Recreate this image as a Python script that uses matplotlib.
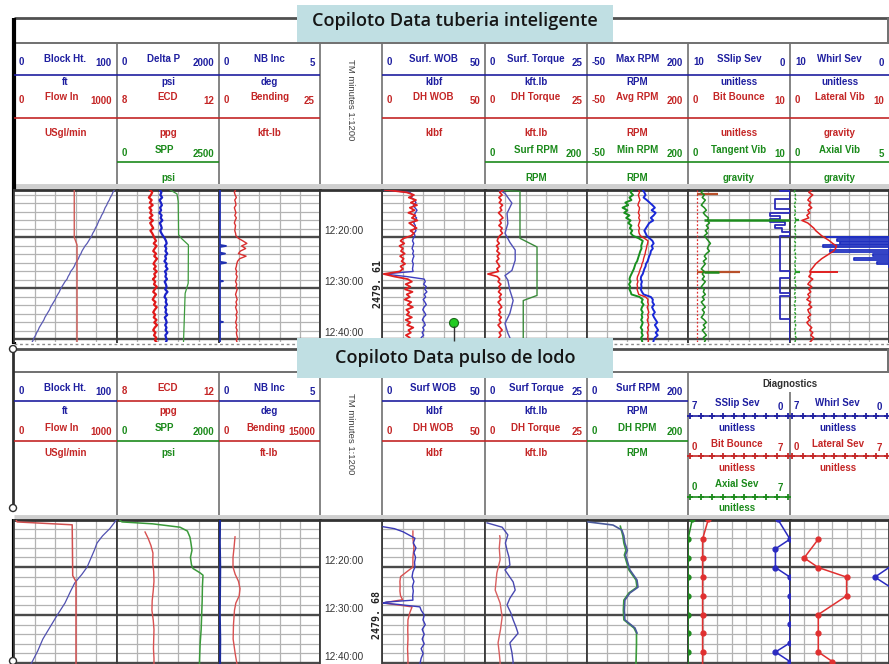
import numpy as np
import matplotlib
matplotlib.use("Agg")
import matplotlib.pyplot as plt
from matplotlib.patches import Rectangle, Circle
from matplotlib.transforms import blended_transform_factory as blend

# ============================ DATA ============================
TRACK_X = [14, 117, 219, 320, 382, 485, 587, 688, 790, 889]
TITLE_TOP = "Copiloto Data tuberia inteligente"
TITLE_BOT = "Copiloto Data pulso de lodo"
TIME_LABEL_T = [20, 30, 40]
TIME_LABEL_S = ["12:20:00", "12:30:00", "12:40:00"]
DEPTH_TOP = "2479. 61"
DEPTH_BOT = "2479. 68"
INDEX_TXT = "TM minutes 1:1200"

# ---- top panel (minutes after 12:00) ----
TT = [10.7, 11.2, 11.7, 12.2, 12.7, 13.2, 13.7, 14.2, 14.7, 15.2,
      15.7, 16.2, 16.7, 17.2, 17.7, 18.2, 18.7, 19.2, 19.7, 20.2,
      20.7, 21.2, 21.7, 22.2, 22.7, 23.2, 23.7, 24.2, 24.7, 25.2,
      25.7, 26.2, 26.7, 27.2, 27.7, 28.2, 28.7, 29.2, 29.7, 30.2,
      30.7, 31.2, 31.7, 32.2, 32.7, 33.2, 33.7, 34.2, 34.7, 35.2,
      35.7, 36.2, 36.7, 37.2, 37.7, 38.2, 38.7, 39.2, 39.7, 40.2, 40.6]
BLOCK_TOP = [97.5, 96.0, 95.0, 93.5, 92.5, 91.0, 90.0, 88.5, 87.5, 86.5,
             85.0, 84.0, 82.5, 81.5, 80.5, 79.0, 78.0, 76.5, 75.5, 74.0,
             72.5, 71.0, 69.0, 67.5, 66.0, 65.0, 63.5, 62.5, 61.0, 59.5,
             58.5, 57.0, 55.0, 54.0, 52.5, 51.5, 49.5, 48.0, 46.5, 45.0,
             44.0, 42.5, 41.0, 40.0, 38.5, 37.0, 35.5, 34.5, 33.0, 31.5,
             30.0, 29.0, 27.5, 26.0, 24.5, 23.5, 22.0, 21.0, 19.5, 18.5, 17.5]
FLOW_TOP_T = [10.7, 20.0, 21.5, 40.6]
FLOW_TOP_V = [585, 585, 612, 612]
ECD_TOP = [9.30, 9.38, 9.33, 9.25, 9.36, 9.29, 9.40, 9.27, 9.35, 9.30,
           9.39, 9.28, 9.41, 9.30, 9.36, 9.42, 9.31, 9.38, 9.43, 9.47,
           9.53, 9.44, 9.55, 9.48, 9.42, 9.53, 9.46, 9.57, 9.49, 9.43,
           9.52, 9.45, 9.56, 9.46, 9.51, 9.41, 9.50, 9.45, 9.56, 9.48,
           9.42, 9.53, 9.46, 9.40, 9.51, 9.45, 9.56, 9.48, 9.42, 9.50,
           9.44, 9.55, 9.46, 9.57, 9.48, 9.42, 9.51, 9.45, 9.54, 9.49, 9.56]
DELTAP_TOP = [840, 870, 850, 885, 835, 860, 880, 845, 865, 830,
              875, 855, 890, 840, 862, 878, 848, 870, 900, 935,
              960, 975, 940, 968, 950, 985, 945, 962, 930, 975,
              955, 990, 940, 965, 948, 980, 935, 958, 972, 945,
              990, 950, 932, 968, 955, 980, 942, 965, 950, 985,
              938, 960, 975, 945, 970, 952, 988, 948, 962, 975, 958]
SPP_TOP_T = [10.7, 11.5, 13.0, 19.5, 20.3, 21.5, 29.0, 31.0, 40.6]
SPP_TOP_V = [1300, 1470, 1500, 1510, 1590, 1750, 1745, 1670, 1630]
NBINC_TOP_T = [10.7, 21.5, 21.7, 21.9, 23.0, 23.2, 23.4, 24.8, 25.0, 25.2,
               28.5, 28.6, 28.7, 36.5, 36.6, 36.7, 40.6]
NBINC_TOP_V = [0.05, 0.05, 0.35, 0.05, 0.05, 0.30, 0.05, 0.05, 0.35, 0.05,
               0.05, 0.20, 0.05, 0.05, 0.20, 0.05, 0.05]
BEND_TOP = [4.1, 3.8, 4.0, 4.3, 3.9, 4.1, 4.2, 3.8, 4.0, 4.2,
            3.9, 4.3, 4.0, 3.8, 4.1, 4.0, 3.9, 4.1, 4.2, 4.8,
            5.9, 6.9, 5.6, 6.6, 5.3, 4.8, 6.7, 5.1, 4.6, 4.4,
            4.3, 4.1, 4.4, 4.2, 4.5, 4.3, 4.1, 4.4, 4.2, 4.5,
            4.3, 4.1, 4.3, 4.5, 4.2, 4.4, 4.1, 4.3, 4.5, 4.2,
            4.4, 4.3, 4.1, 4.4, 4.2, 4.5, 4.3, 4.4, 4.6, 4.3, 4.5]
SWOB_TOP = [1.0, 13.5, 15.0, 14.2, 15.8, 16.5, 15.2, 16.0, 17.0, 16.2,
            15.5, 16.8, 16.0, 15.4, 16.2, 15.8, 16.5, 15.6, 16.0, 15.2,
            14.8, 15.4, 15.0, 14.6, 15.3, 14.9, 15.5, 15.0, 14.7, 15.2,
            15.0, 14.8, 15.1, 1.0, 12.0, 20.5, 21.0, 20.2, 21.5, 20.8,
            21.8, 20.5, 21.2, 20.0, 20.8, 21.5, 20.4, 19.8, 20.6, 21.3,
            20.2, 19.6, 20.5, 21.0, 19.8, 20.4, 19.5, 20.2, 19.0, 19.6, 19.3]
DWOB_TOP = [1.5, 12.0, 15.5, 13.0, 16.5, 14.0, 17.0, 13.5, 15.8, 12.8,
            16.2, 14.5, 17.2, 13.2, 15.0, 16.8, 13.8, 15.5, 14.2, 10.5,
            9.0, 10.8, 8.5, 10.2, 9.2, 11.0, 8.8, 10.5, 9.5, 11.2,
            9.0, 10.2, 8.6, 0.8, 6.0, 12.5, 14.5, 11.5, 13.8, 11.2,
            14.8, 12.0, 13.5, 11.0, 14.2, 12.5, 15.0, 11.8, 13.2, 12.0,
            14.5, 11.5, 13.8, 12.2, 15.2, 12.8, 14.0, 11.6, 13.5, 12.4, 14.0]
STORQ_TOP_T = [10.7, 11.4, 13.3, 15.3, 17.3, 19.2, 21.0, 22.5, 24.5, 26.5,
               27.5, 28.4, 30.4, 32.4, 34.9, 36.9, 38.8, 40.6]
STORQ_TOP_V = [3.5, 4.9, 6.6, 5.4, 5.6, 4.9, 6.1, 7.4, 7.4, 6.6,
               4.9, 5.6, 6.1, 6.9, 6.1, 4.9, 5.6, 6.6]
DTORQ_TOP = [4.5, 3.6, 4.2, 3.4, 4.0, 3.5, 4.3, 3.7, 4.1, 3.3,
             3.9, 4.4, 3.6, 4.0, 3.4, 4.2, 3.8, 4.3, 3.6, 3.2,
             3.0, 3.5, 2.8, 3.3, 2.9, 3.6, 3.0, 3.4, 2.8, 3.2,
             3.6, 2.9, 3.3, 0.7, 3.0, 3.6, 3.2, 3.9, 3.4, 3.8,
             3.3, 4.0, 3.5, 3.9, 3.2, 3.7, 4.1, 3.4, 3.8, 3.3,
             4.0, 3.5, 3.9, 3.2, 3.7, 4.2, 3.5, 3.9, 3.4, 3.8, 3.6]
SRPM_TOP_T = [10.8, 11.0, 20.2, 21.9, 31.4, 32.4, 40.6]
SRPM_TOP_V = [35, 68.6, 68.6, 102, 102, 75, 75]
MAXRPM_TOP = [88, 92, 95, 90, 98, 105, 112, 118, 110, 120,
              115, 108, 114, 104, 100, 96, 92, 95, 98, 105,
              112, 115, 110, 113, 108, 107, 104, 102, 100, 96,
              95, 92, 90, 88, 84, 83, 86, 84, 85, 83,
              86, 90, 108, 113, 112, 116, 111, 114, 118, 113,
              116, 120, 124, 118, 122, 126, 120, 125, 118, 115, 114]
AVGRPM_TOP = [78, 80, 77, 79, 81, 78, 76, 80, 79, 77,
              80, 78, 81, 79, 77, 80, 78, 79, 82, 92,
              101, 100, 98, 97, 95, 94, 92, 90, 89, 86,
              85, 82, 80, 78, 75, 74, 76, 74, 75, 74,
              76, 78, 95, 101, 100, 102, 99, 101, 103, 100,
              102, 99, 101, 103, 100, 102, 99, 101, 100, 102, 101]
MINRPM_TOP = [62, 58, 64, 55, 60, 45, 52, 38, 50, 42,
              55, 47, 58, 52, 60, 56, 62, 58, 64, 78,
              88, 86, 84, 85, 82, 80, 78, 76, 74, 70,
              68, 66, 63, 60, 57, 55, 58, 54, 57, 55,
              58, 60, 80, 88, 85, 90, 86, 84, 88, 85,
              87, 84, 88, 86, 83, 87, 85, 88, 84, 86, 87]
SSLIP_TOP_T = [10.7, 11.0, 12.5, 14.5, 15.3, 15.9, 16.5, 17.0, 17.6, 18.2,
               19.0, 19.8, 26.7, 28.0, 31.0, 31.6, 36.1, 38.8, 40.6]
SSLIP_TOP_V = [0, 1, 0, 1.5, 0, 2, 1, 2, 0.5, 1.5,
               0.8, 0, 1, 0, 1, 0, 1, 0, 0]
BITB_TOP_T = [10.7, 40.6]
BITB_TOP_V = [0.9, 0.9]
BITB_SPIKE_T = [11.6, 26.85]
BITB_SPIKE_V = [2.9, 5.1]
TANG_TOP = [1.5, 1.3, 1.6, 1.4, 1.7, 1.5, 1.3, 1.6, 1.8, 1.5,
            1.7, 2.0, 1.9, 2.1, 1.8, 2.0, 1.7, 1.9, 1.6, 1.8,
            2.0, 2.2, 2.0, 1.9, 2.1, 1.8, 1.6, 1.8, 1.5, 1.7,
            1.5, 1.3, 1.6, 1.4, 1.6, 1.4, 1.7, 1.5, 1.3, 1.6,
            1.5, 1.7, 1.4, 1.6, 1.3, 1.5, 1.7, 1.4, 1.6, 1.5,
            1.3, 1.6, 1.8, 1.5, 1.7, 1.4, 1.6, 1.8, 1.5, 1.7, 1.6]
TANG_SPIKE_T = [16.7, 26.85]
TANG_SPIKE_V = [11.0, 3.0]
WHIRL_TOP_T = [19.9, 20.0, 20.35, 20.65, 21.0, 21.3, 21.6, 22.0, 22.4, 22.9,
               23.2, 23.6, 24.0, 24.4, 24.8, 25.2, 25.5, 25.9]
WHIRL_TOP_V = [0, 6.3, 0, 5.3, 0, 5.0, 0, 6.7, 0, 6.0,
               0, 1.6, 0, 3.5, 0, 1.2, 0, 0]
LATV_TOP = [2.2, 1.9, 2.3, 2.0, 1.8, 2.1, 1.9, 2.2, 1.8, 2.0,
            1.7, 1.9, 1.2, 1.8, 2.1, 2.4, 2.6, 2.9, 3.2, 3.6,
            4.0, 4.3, 4.7, 4.6, 4.4, 4.0, 3.6, 3.2, 2.9, 2.6,
            2.4, 2.2, 2.0, 2.1, 1.9, 2.3, 2.0, 1.8, 2.2, 1.9,
            2.1, 1.8, 2.0, 1.7, 2.1, 1.9, 2.2, 1.8, 1.9, 2.1,
            1.8, 2.0, 1.7, 1.9, 2.2, 2.0, 2.3, 2.1, 2.4, 2.2, 2.0]
LATV_SPIKE_T = [26.85]
LATV_SPIKE_V = [4.8]
AXV_TOP = [0.25, 0.22, 0.28, 0.24, 0.30, 0.26, 0.21, 0.27, 0.25, 0.29,
           0.23, 0.26, 0.31, 0.24, 0.27, 0.22, 0.28, 0.25, 0.30, 0.26,
           0.23, 0.29, 0.25, 0.27, 0.22, 0.28, 0.24, 0.30, 0.26, 0.23,
           0.27, 0.25, 0.29, 0.24, 0.26, 0.22, 0.28, 0.25, 0.30, 0.24,
           0.27, 0.23, 0.26, 0.29, 0.25, 0.22, 0.28, 0.26, 0.24, 0.30,
           0.25, 0.27, 0.23, 0.29, 0.26, 0.24, 0.28, 0.25, 0.31, 0.27, 0.25]
AXV_SPIKE_T = [16.7, 26.85]
AXV_SPIKE_V = [0.45, 0.5]

# ---- bottom panel ----
BLOCK_BOT_T = [10.2, 10.6, 12.0, 13.5, 15.0, 16.5, 18.0, 20.0, 21.5, 23.3,
               25.0, 27.5, 30.0, 32.5, 35.0, 37.5, 39.8, 40.2]
BLOCK_BOT_V = [99, 98, 93, 86, 80.6, 78, 75, 71, 66, 59,
               55, 49.5, 42, 35, 28, 23, 17.5, 16.5]
FLOW_BOT_T = [10.2, 10.6, 11.2, 21.8, 23.0, 40.2]
FLOW_BOT_V = [20, 30, 565, 570, 602, 602]
ECD_BOT_T = [12.7, 14.0, 15.5, 17.1, 19.0, 21.0, 23.0, 25.0, 27.0, 29.0,
             31.0, 33.0, 35.0, 37.0, 39.0, 40.2]
ECD_BOT_V = [9.10, 9.22, 9.33, 9.41, 9.40, 9.44, 9.45, 9.42, 9.38, 9.37,
             9.42, 9.45, 9.44, 9.43, 9.45, 9.45]
SPP_BOT_T = [10.3, 10.6, 11.0, 11.7, 12.5, 13.8, 15.0, 16.5, 18.0, 19.5,
             20.3, 21.2, 21.7, 24.0, 27.0, 30.0, 33.0, 36.0, 39.0, 40.2]
SPP_BOT_V = [60, 98, 700, 1235, 1380, 1431, 1450, 1470, 1440, 1460,
             1490, 1627, 1686, 1675, 1670, 1660, 1650, 1630, 1620, 1617]
NBINC_BOT_T = [10.2, 15.0, 20.0, 25.0, 30.0, 35.0, 40.2]
NBINC_BOT_V = [0.05, 0.04, 0.06, 0.05, 0.04, 0.06, 0.05]
BEND_BOT_T = [13.7, 16.0, 18.0, 20.0, 21.5, 23.0, 24.5, 26.0, 27.5, 29.0,
              32.0, 35.0, 38.0, 40.2]
BEND_BOT_V = [2380, 2230, 2080, 2080, 2400, 2900, 3120, 3000, 2500, 2300,
              2150, 2100, 2400, 2670]
SWOB_BOT_T = [11.6, 12.0, 12.65, 14.0, 15.0, 16.0, 17.0, 18.0, 19.0, 20.0,
              21.0, 22.0, 23.0, 24.0, 25.0, 26.0, 26.9, 27.3, 27.5, 27.8,
              28.3, 29.0, 30.0, 31.0, 32.0, 33.0, 34.0, 35.0, 36.0, 37.0,
              38.0, 39.0, 40.2]
SWOB_BOT_V = [0.5, 6, 10.2, 16, 15.2, 16.5, 15.5, 16.3, 15.8, 16,
              15, 14.6, 15.5, 14.8, 15.2, 14.9, 15, 2, 0.5, 8,
              18.4, 19, 20.5, 19.9, 21, 19.5, 20.5, 19.5, 20.5, 19,
              20, 19, 18.4]
DWOB_BOT_T = [12.5, 14.0, 16.0, 18.0, 20.0, 21.0, 22.0, 23.0, 24.0, 25.0,
              26.0, 26.8, 27.3, 27.5, 27.8, 28.3, 29.5, 31.0, 33.0, 35.0,
              37.0, 39.0, 40.2]
DWOB_BOT_V = [15, 15, 15.5, 15, 15, 12, 9, 8.7, 8.8, 8.7,
              9, 10, 3, 0.5, 6, 14.6, 13.5, 12.6, 12.5, 12.6,
              12.4, 12.6, 12.6]
STORQ_BOT_T = [10.8, 11.7, 13.3, 15.0, 16.5, 18.0, 19.6, 20.6, 22.0, 23.1,
               24.8, 26.5, 27.9, 29.5, 31.0, 32.5, 33.8, 35.8, 37.8, 39.8, 40.2]
STORQ_BOT_V = [0.5, 4.2, 5.6, 5.0, 5.4, 5.9, 6.1, 4.9, 6.0, 6.9,
               7.4, 6.1, 5.4, 6.3, 6.9, 7.6, 8.1, 6.1, 6.6, 6.9, 6.8]
DTORQ_BOT_T = [13.5, 14.0, 16.0, 18.5, 21.25, 23.0, 24.8, 27.5, 30.4, 33.0,
               35.8, 38.0, 39.8, 40.2]
DTORQ_BOT_V = [3.6, 3.7, 3.5, 3.7, 2.9, 2.7, 2.5, 3.7, 4.2, 3.8,
               3.2, 3.5, 3.7, 3.7]
SRPM_BOT_T = [10.6, 11.25, 12.3, 13.5, 15.0, 16.5, 17.5, 18.5, 20.6, 22.7,
              24.2, 25.4, 26.9, 29.0, 31.0, 32.7, 33.75]
SRPM_BOT_V = [2, 51.5, 69, 73, 75, 80, 76, 79, 85, 99,
              101, 85, 75, 74, 75, 95, 99]
DRPM_BOT_T = [11.5, 12.3, 13.5, 15.0, 16.5, 17.5, 18.5, 20.6, 22.7, 24.2,
              25.4, 26.9, 29.0, 31.0, 32.7, 33.75, 36.0, 40.2]
DRPM_BOT_V = [66, 68, 71, 73, 77, 74, 77, 83, 97, 99,
              83, 73, 72, 73, 93, 98, 98, 97]
# diagnostics (unitless 0..7)
AXS_T = [10.0, 14.2, 18.1, 22.1, 26.0, 29.9, 33.8, 37.7, 41.6]
AXS_V = [0.3, 0, 0, 0, 0, 0, 0, 0, 0]
BBS_T = [10.0, 14.2, 18.1, 22.1, 26.0, 29.9, 33.8, 37.7, 41.6]
BBS_V = [1.4, 1, 1, 1, 1, 1, 1, 1, 1]
SSS_T = [10.0, 14.2, 16.2, 20.1, 22.1, 26.0, 31.9, 35.8, 37.7, 39.7, 41.6]
SSS_V = [0.85, 0, 1, 1, 0, 0, 0, 0, 1, 0, 0]
LTS_T = [14.2, 18.1, 20.1, 22.1, 26.0, 29.9, 33.8, 37.7, 39.7, 41.6]
LTS_V = [2, 1, 2, 4, 4, 2, 2, 2, 3, 3]
WHS_T = [20.1, 22.1, 24.0]
WHS_V = [0, 1, 0]

# header texts: (track, row, left, label, right, unit, colour key)
TOP_HDR = [
    (0, 0, '0', 'Block Ht.', '100', 'ft', 'b'),
    (0, 1, '0', 'Flow In', '1000', 'USgl/min', 'r'),
    (1, 0, '0', 'Delta P', '2000', 'psi', 'b'),
    (1, 1, '8', 'ECD', '12', 'ppg', 'r'),
    (1, 2, '0', 'SPP', '2500', 'psi', 'g'),
    (2, 0, '0', 'NB Inc', '5', 'deg', 'b'),
    (2, 1, '0', 'Bending', '25', 'kft-lb', 'r'),
    (4, 0, '0', 'Surf. WOB', '50', 'klbf', 'b'),
    (4, 1, '0', 'DH WOB', '50', 'klbf', 'r'),
    (5, 0, '0', 'Surf. Torque', '25', 'kft.lb', 'b'),
    (5, 1, '0', 'DH Torque', '25', 'kft.lb', 'r'),
    (5, 2, '0', 'Surf RPM', '200', 'RPM', 'g'),
    (6, 0, '-50', 'Max RPM', '200', 'RPM', 'b'),
    (6, 1, '-50', 'Avg RPM', '200', 'RPM', 'r'),
    (6, 2, '-50', 'Min RPM', '200', 'RPM', 'g'),
    (7, 0, '10', 'SSlip Sev', '0', 'unitless', 'b'),
    (7, 1, '0', 'Bit Bounce', '10', 'unitless', 'r'),
    (7, 2, '0', 'Tangent Vib', '10', 'gravity', 'g'),
    (8, 0, '10', 'Whirl Sev', '0', 'unitless', 'b'),
    (8, 1, '0', 'Lateral Vib', '10', 'gravity', 'r'),
    (8, 2, '0', 'Axial Vib', '5', 'gravity', 'g'),
]
BOT_HDR = [
    (0, 0, '0', 'Block Ht.', '100', 'ft', 'b'),
    (0, 1, '0', 'Flow In', '1000', 'USgl/min', 'r'),
    (1, 0, '8', 'ECD', '12', 'ppg', 'r'),
    (1, 1, '0', 'SPP', '2000', 'psi', 'g'),
    (2, 0, '0', 'NB Inc', '5', 'deg', 'b'),
    (2, 1, '0', 'Bending', '15000', 'ft-lb', 'r'),
    (4, 0, '0', 'Surf WOB', '50', 'klbf', 'b'),
    (4, 1, '0', 'DH WOB', '50', 'klbf', 'r'),
    (5, 0, '0', 'Surf Torque', '25', 'kft.lb', 'b'),
    (5, 1, '0', 'DH Torque', '25', 'kft.lb', 'r'),
    (6, 0, '0', 'Surf RPM', '200', 'RPM', 'b'),
    (6, 1, '0', 'DH RPM', '200', 'RPM', 'g'),
]
DIAG_HDR = [
    (7, 0, '7', 'SSlip Sev', '0', 'b'),
    (8, 0, '7', 'Whirl Sev', '0', 'b'),
    (7, 1, '0', 'Bit Bounce', '7', 'r'),
    (8, 1, '0', 'Lateral Sev', '7', 'r'),
    (7, 2, '0', 'Axial Sev', '7', 'g'),
]

# ============================ STYLE ============================
W, H = 889, 664
HC = {'b': '#1f1fa0', 'r': '#c42626', 'g': '#1b8a1b'}
NARROW = ['Liberation Sans Narrow', 'Liberation Sans', 'DejaVu Sans']
HFONT = dict(family=NARROW, fontweight='bold', fontsize=7.0)
GRID = '#b3b3b3'
MAJ = '#4a4a4a'
EDGE = '#3c3c3c'

PANELS = {
    'top': dict(y0=190, y1=342, t0=10.73, t1=40.53, minor=10 / 6),
    'bot': dict(y0=520, y1=664, t0=10.2, t1=40.2, minor=2.0),
}

fig = plt.figure(figsize=(W / 100, H / 100), dpi=100)
fig.patch.set_facecolor('white')


def R(x0, y0, x1, y1):
    return [x0 / W, 1 - y1 / H, (x1 - x0) / W, (y1 - y0) / H]


bg = fig.add_axes([0, 0, 1, 1], label='bg')
bg.set_xlim(0, W)
bg.set_ylim(H, 0)
bg.axis('off')

# ---------------- frames ----------------
bg.hlines(18, 14, 889, color='#505050', lw=2)
bg.hlines(43, 14, 889, color='#707070', lw=1.4)
bg.vlines(888, 18, 43, color='#707070', lw=1.4)
bg.vlines(TRACK_X[1:-1], 43, 184, color='#707070', lw=1.2)
bg.hlines(185.5, 14, 889, color='#cfcfcf', lw=3.5)
bg.vlines(14, 18, 344, color='black', lw=3)
bg.hlines(343.5, 14, 889, color='#8c8c8c', lw=1.0, linestyles=(0, (2, 2)))
bg.hlines(349, 13, 889, color='#505050', lw=2)
bg.hlines(372, 14, 889, color='#707070', lw=1.4)
bg.vlines(888, 349, 372, color='#707070', lw=1.4)
bg.vlines(TRACK_X[1:8], 372, 515, color='#707070', lw=1.2)
bg.vlines(790, 392, 515, color='#707070', lw=1.2)
bg.vlines(13, 349, 510, color='#303030', lw=2)
bg.hlines(516.5, 14, 889, color='#cfcfcf', lw=3.5)
bg.vlines(14, 519, 664, color='black', lw=3)

# ---------------- headers ----------------
TOP_ROWS = dict(label=[59, 97, 150], line=[75, 118, 162], unit=[82, 133, 178])
BOT_ROWS = dict(label=[388, 428], line=[401, 441], unit=[411, 453])


def header(spec, rows):
    ti, row, lv, lab, rv, unit, ck = spec
    L, Rr = TRACK_X[ti], TRACK_X[ti + 1]
    c = (L + Rr) / 2
    col = HC[ck]
    ly = rows['label'][row]
    dx = -4 if len(rv) >= 4 else 0
    bg.text(L + 5, ly + 3, lv, color=col, ha='left', va='center', **HFONT)
    bg.text(c + dx, ly, lab, color=col, ha='center', va='center', **HFONT)
    bg.text(Rr - 5, ly + 4, rv, color=col, ha='right', va='center', **HFONT)
    bg.hlines(rows['line'][row], L, Rr, color=col, lw=1.2)
    bg.text(c, rows['unit'][row], unit, color=col, ha='center', va='center', **HFONT)


for s in TOP_HDR:
    header(s, TOP_ROWS)
for s in BOT_HDR:
    header(s, BOT_ROWS)

bg.text(790, 384, 'Diagnostics', color='#303030', ha='center', va='center', **HFONT)
DROWS = dict(label=[403, 444, 484], line=[416, 456, 497], unit=[428, 468, 508])
for ti, row, lv, lab, rv, ck in DIAG_HDR:
    L, Rr = TRACK_X[ti], TRACK_X[ti + 1]
    c = (L + Rr) / 2 - 2
    col = HC[ck]
    ly = DROWS['label'][row]
    bg.text(L + 4, ly + 3, lv, color=col, ha='left', va='center', **HFONT)
    bg.text(c, ly, lab, color=col, ha='center', va='center', **HFONT)
    bg.text(Rr - 7, ly + 4, rv, color=col, ha='right', va='center', **HFONT)
    xs = np.linspace(L + 2, Rr - 2, 10)
    bg.plot(xs, [DROWS['line'][row]] * len(xs), color=col, lw=1.2,
            marker='+', ms=5, mew=1.3)
    bg.text(c, DROWS['unit'][row], 'unitless', color=col, ha='center', va='center', **HFONT)

for yc in (100, 434):
    bg.text(351, yc, INDEX_TXT, rotation=270, ha='center', va='center',
            color='#404040', family=NARROW, fontsize=6.8)

# ---------------- data tracks ----------------


def grid_axes(p, ti, ndiv):
    x0, x1 = TRACK_X[ti], TRACK_X[ti + 1]
    ax = fig.add_axes(R(x0, p['y0'], x1, p['y1']), label=f'g{ti}_{p["y0"]}')
    ax.set_xlim(0, 1)
    ax.set_ylim(p['t1'], p['t0'])
    for i in range(1, ndiv):
        ax.axvline(i / ndiv, color=GRID, lw=0.9, zorder=0)
    n = int(round(10 / p['minor']))
    for k in range(0, 3 * n + 1):
        t = 10 + k * p['minor']
        if k % n == 0:
            ax.axhline(t, color=MAJ, lw=1.7, zorder=1)
        else:
            ax.axhline(t, color=GRID, lw=0.9, zorder=0)
    ax.set_xticks([])
    ax.set_yticks([])
    for side in ('left', 'right'):
        ax.spines[side].set_color(EDGE)
        ax.spines[side].set_linewidth(1.3)
    ax.spines['top'].set_color('#333333')
    ax.spines['top'].set_linewidth(2.0)
    ax.spines['bottom'].set_visible(False)
    return ax


def depth_axes(p):
    x0, x1 = TRACK_X[3], TRACK_X[4]
    ax = fig.add_axes(R(x0, p['y0'], x1, p['y1']), label=f'd_{p["y0"]}')
    ax.set_xlim(0, 1)
    ax.set_ylim(p['t1'], p['t0'])
    ax.set_xticks([])
    ax.set_yticks([])
    for side in ('left', 'right'):
        ax.spines[side].set_color(EDGE)
        ax.spines[side].set_linewidth(1.3)
    ax.spines['top'].set_color('#333333')
    ax.spines['top'].set_linewidth(2.0)
    ax.spines['bottom'].set_visible(False)
    tr = blend(ax.transAxes, ax.transData)
    for t, s in zip(TIME_LABEL_T, TIME_LABEL_S):
        ax.text(0.39, t - 0.25, s, transform=tr, ha='center', va='bottom',
                family=NARROW, fontsize=7.2, color='#333333')
    return ax


_count = [0]


def curve_axes(p, ti, lo, hi):
    x0, x1 = TRACK_X[ti], TRACK_X[ti + 1]
    _count[0] += 1
    ax = fig.add_axes(R(x0, p['y0'], x1, p['y1']), label=f'c{_count[0]}')
    ax.set_xlim(lo, hi)
    ax.set_ylim(p['t1'], p['t0'])
    ax.axis('off')
    ax.patch.set_alpha(0)
    return ax


P = PANELS['top']
for ti in (0, 1, 2, 4, 5, 6, 7, 8):
    grid_axes(P, ti, 5)
depth_axes(P)
Q = PANELS['bot']
for ti in (0, 1, 2, 4, 5, 6):
    grid_axes(Q, ti, 5)
for ti in (7, 8):
    grid_axes(Q, ti, 7)
depth_axes(Q)

bg2 = fig.add_axes([0, 0, 1, 1], label='depthtxt')
bg2.set_xlim(0, W)
bg2.set_ylim(H, 0)
bg2.axis('off')
bg2.text(378, 284, DEPTH_TOP, rotation=90, ha='center', va='center',
         family='DejaVu Sans Mono', fontweight='bold', fontsize=7.2, color='#222222')
bg2.text(377, 615, DEPTH_BOT, rotation=90, ha='center', va='center',
         family='DejaVu Sans Mono', fontweight='bold', fontsize=7.2, color='#222222')

# ---- top curves ----
a = curve_axes(P, 0, 0, 100)
a.plot(BLOCK_TOP, TT, color='#5a5ab4', lw=0.9)
a = curve_axes(P, 0, 0, 1000)
a.plot(FLOW_TOP_V, FLOW_TOP_T, color='#cf5a55', lw=1.0)

a = curve_axes(P, 1, 0, 2500)
a.plot(SPP_TOP_V, SPP_TOP_T, color='#3c9a3c', lw=0.9)
a = curve_axes(P, 1, 0, 2000)
a.plot(DELTAP_TOP, TT, color='#1a22c8', lw=1.6)
a = curve_axes(P, 1, 8, 12)
a.plot(ECD_TOP, TT, color='#e01818', lw=1.6)

a = curve_axes(P, 2, 0, 5)
a.plot(NBINC_TOP_V, NBINC_TOP_T, color='#2030b0', lw=1.3)
a = curve_axes(P, 2, 0, 25)
a.plot(BEND_TOP, TT, color='#d83030', lw=1.0)

a = curve_axes(P, 4, 0, 50)
a.plot(SWOB_TOP, TT, color='#3c3cc0', lw=1.0)
a = curve_axes(P, 4, 0, 50)
a.plot(DWOB_TOP, TT, color='#e02020', lw=1.3)

a = curve_axes(P, 5, 0, 200)
a.plot(SRPM_TOP_V, SRPM_TOP_T, color='#3a8a3a', lw=1.0)
a = curve_axes(P, 5, 0, 25)
a.plot(STORQ_TOP_V, STORQ_TOP_T, color='#5050b8', lw=1.0)
a = curve_axes(P, 5, 0, 25)
a.plot(DTORQ_TOP, TT, color='#e02020', lw=1.2)

a = curve_axes(P, 6, -50, 200)
a.plot(MAXRPM_TOP, TT, color='#1828d8', lw=1.4)
a = curve_axes(P, 6, -50, 200)
a.plot(MINRPM_TOP, TT, color='#18901e', lw=1.4)
a = curve_axes(P, 6, -50, 200)
a.plot(AVGRPM_TOP, TT, color='#e02020', lw=1.0)

a = curve_axes(P, 7, 10, 0)
a.plot(SSLIP_TOP_V, SSLIP_TOP_T, color='#2a2ab8', lw=1.3, drawstyle='steps-post')
a = curve_axes(P, 7, 0, 10)
a.plot(BITB_TOP_V, BITB_TOP_T, color='#e03030', lw=0.9, ls=(0, (1.5, 1.5)))
a.hlines(BITB_SPIKE_T, BITB_TOP_V[0], BITB_SPIKE_V, color='#b8502a', lw=1.6)
a = curve_axes(P, 7, 0, 10)
a.plot(TANG_TOP, TT, color='#1e8c1e', lw=1.1)
a.hlines(TANG_SPIKE_T, 1.6, TANG_SPIKE_V, color='#1e8c1e', lw=1.8)

a = curve_axes(P, 8, 10, 0)
a.plot(WHIRL_TOP_V, WHIRL_TOP_T, color='#2030c0', lw=1.3, drawstyle='steps-post')
a = curve_axes(P, 8, 0, 5)
a.plot(AXV_TOP, TT, color='#2a9a2a', lw=1.0, ls=(0, (2, 1)))
a.hlines(AXV_SPIKE_T, 0.25, AXV_SPIKE_V, color='#2a9a2a', lw=1.6)
a = curve_axes(P, 8, 0, 10)
a.plot(LATV_TOP, TT, color='#e02020', lw=1.1)
a.hlines(LATV_SPIKE_T, 2.0, LATV_SPIKE_V, color='#e02020', lw=1.4)

# ---- bottom curves ----
a = curve_axes(Q, 0, 0, 100)
a.plot(BLOCK_BOT_V, BLOCK_BOT_T, color='#5050b0', lw=0.9)
a = curve_axes(Q, 0, 0, 1000)
a.plot(FLOW_BOT_V, FLOW_BOT_T, color='#d05050', lw=1.1)

a = curve_axes(Q, 1, 0, 2000)
a.plot(SPP_BOT_V, SPP_BOT_T, color='#3a9a3a', lw=1.1)
a = curve_axes(Q, 1, 8, 12)
a.plot(ECD_BOT_V, ECD_BOT_T, color='#d85050', lw=1.0)

a = curve_axes(Q, 2, 0, 5)
a.plot(NBINC_BOT_V, NBINC_BOT_T, color='#1a2a9a', lw=1.5)
a = curve_axes(Q, 2, 0, 15000)
a.plot(BEND_BOT_V, BEND_BOT_T, color='#d85050', lw=1.0)

a = curve_axes(Q, 4, 0, 50)
a.plot(DWOB_BOT_V, DWOB_BOT_T, color='#d85050', lw=1.0)
a = curve_axes(Q, 4, 0, 50)
a.plot(SWOB_BOT_V, SWOB_BOT_T, color='#3a3ab8', lw=1.0)

a = curve_axes(Q, 5, 0, 25)
a.plot(DTORQ_BOT_V, DTORQ_BOT_T, color='#d86060', lw=1.0)
a = curve_axes(Q, 5, 0, 25)
a.plot(STORQ_BOT_V, STORQ_BOT_T, color='#4848b0', lw=1.0)

a = curve_axes(Q, 6, 0, 200)
a.plot(DRPM_BOT_V, DRPM_BOT_T, color='#3a9a3a', lw=1.2)
a = curve_axes(Q, 6, 0, 200)
a.plot(SRPM_BOT_V, SRPM_BOT_T, color='#4a5a9a', lw=1.2)

a = curve_axes(Q, 7, 0, 7)
a.plot(AXS_V, AXS_T, color='#1e8a1e', lw=1.1, marker='o', ms=3.5)
a = curve_axes(Q, 7, 0, 7)
a.plot(BBS_V, BBS_T, color='#e03030', lw=1.1, marker='o', ms=3.5)
a = curve_axes(Q, 7, 7, 0)
a.plot(SSS_V, SSS_T, color='#2a2ac0', lw=1.1, marker='o', ms=3.5)
a = curve_axes(Q, 8, 0, 7)
a.plot(LTS_V, LTS_T, color='#e03030', lw=1.1, marker='o', ms=3.5)
a = curve_axes(Q, 8, 7, 0)
a.plot(WHS_V, WHS_T, color='#2a2ac0', lw=1.1, marker='o', ms=3.5, markevery=[1])

# ---------------- overlay: title boxes, pins ----------------
ov = fig.add_axes([0, 0, 1, 1], label='overlay')
ov.set_xlim(0, W)
ov.set_ylim(H, 0)
ov.axis('off')
ov.patch.set_alpha(0)
TFONT = dict(family=['Open Sans', 'DejaVu Sans'], fontweight='semibold',
             fontsize=13, color='#151515')
ov.add_patch(Rectangle((297, 5), 316, 37, facecolor='#c0dfe3', edgecolor='none'))
ov.text(455, 21, TITLE_TOP, ha='center', va='center', **TFONT)
ov.add_patch(Rectangle((297, 338), 316, 40, facecolor='#c0dfe3', edgecolor='none'))
ov.text(455, 358, TITLE_BOT, ha='center', va='center', **TFONT)
ov.vlines(454, 326, 341, color='#333333', lw=1)
ov.add_patch(Circle((454, 323), 4.5, facecolor='#22cc22', edgecolor='#1a6a1a', lw=0.8))
for yc in (349, 508, 661):
    ov.add_patch(Circle((13, yc), 3.5, facecolor='white', edgecolor='#303030', lw=1))

fig.savefig('out.png', dpi=100, facecolor='white')
